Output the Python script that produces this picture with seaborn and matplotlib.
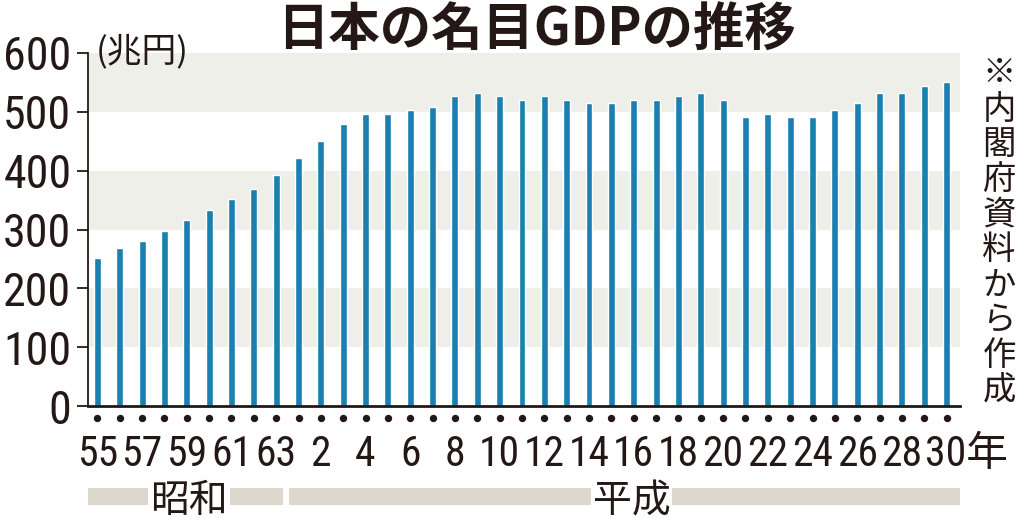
import matplotlib
matplotlib.use("Agg")
import matplotlib.pyplot as plt
import seaborn as sns
import pandas as pd
from matplotlib import font_manager as fm
from matplotlib.transforms import blended_transform_factory, ScaledTranslation
from matplotlib.patches import Rectangle

# ---------------- data ----------------
showa_years = [55, 56, 57, 58, 59, 60, 61, 62, 63]
heisei_years = list(range(1, 31))
gdp = [251, 269, 281, 298, 316, 333, 351, 368, 392,           # 昭和55-63
       421, 450, 480, 497, 497, 503, 509, 527, 532, 527,      # 平成1-10
       520, 527, 520, 515, 515, 520, 520, 527, 532, 520,      # 平成11-20
       491, 497, 491, 491, 503, 515, 532, 532, 544, 550]      # 平成21-30
title = "日本の名目GDPの推移"
unit_label = "(兆円)"
note = "※内閣府資料から作成"
era_names = ["昭和", "平成"]
y_ticks = [0, 100, 200, 300, 400, 500, 600]

categories = [f"S{y}" for y in showa_years] + [f"H{y}" for y in heisei_years]
year_labels = [str(y) for y in showa_years] + [str(y) for y in heisei_years]
year_labels[-1] = year_labels[-1] + "年"

# ---------------- style ----------------
sns.set_style("white")
fonts = fm.fontManager.ttflist
names = {f.name for f in fonts}
num_font, num_stretch, narrow = "Liberation Sans", "normal", False
if "Liberation Sans Narrow" in names:
    num_font, narrow = "Liberation Sans Narrow", True
elif "Roboto Condensed" in names:
    num_font, narrow = "Roboto Condensed", True
elif any(f.name == "Roboto" and f.stretch == "condensed" for f in fonts):
    num_font, num_stretch, narrow = "Roboto", "condensed", True
cjk = "Noto Sans CJK JP"
plt.rcParams["font.family"] = [num_font, cjk, "DejaVu Sans"]
plt.rcParams["font.stretch"] = num_stretch

ylab_size = 33 if narrow else 29
xlab_size = 30 if narrow else 27

ink = "#231815"
bar_color = "#1b80b0"
band_color = "#efefea"
era_color = "#dcd8ce"

W, H = 1024, 530
fig = plt.figure(figsize=(W / 100, H / 100), dpi=100)
fig.patch.set_facecolor("white")
ax = fig.add_axes([88 / W, 1 - 406 / H, (960 - 88) / W, (406 - 53) / H])

# background bands
for lo in (100, 300, 500):
    ax.axhspan(lo, lo + 100, color=band_color, lw=0, zorder=0)

df = pd.DataFrame({"cat": categories, "gdp": gdp})
sns.barplot(data=df, x="cat", y="gdp", order=categories, color=bar_color,
            saturation=1, width=0.31, ax=ax, zorder=2)

n = len(categories)
ax.set_xlim(-0.42, n - 1 + 0.6)
ax.set_ylim(0, 600)
ax.set_xlabel("")
ax.set_ylabel("")

for s in ("top", "right"):
    ax.spines[s].set_visible(False)
ax.spines["left"].set_color(ink)
ax.spines["left"].set_linewidth(1.3)
ax.spines["bottom"].set_color(ink)
ax.spines["bottom"].set_linewidth(2)
ax.spines["bottom"].set_zorder(3)

ax.set_yticks(y_ticks)
ax.set_yticklabels([str(v) for v in y_ticks])
ax.tick_params(axis="y", length=8, width=1.3, color=ink, pad=4,
               labelsize=ylab_size, labelcolor=ink, left=True)

xt = list(range(0, n, 2))
ax.set_xticks(xt)
ax.set_xticklabels([year_labels[i] for i in xt])
ax.tick_params(axis="x", length=0, pad=20, labelsize=xlab_size, labelcolor=ink)
# "30年": digits roughly under the last bar, 年 hanging to the right
last = ax.get_xticklabels()[-1]
last.set_horizontalalignment("left")
last.set_transform(last.get_transform() + ScaledTranslation(-0.22, 0, fig.dpi_scale_trans))

trans = blended_transform_factory(ax.transData, ax.transAxes)
axh = 406 - 53

# dots under each bar
ax.scatter(range(n), [-12 / axh] * n, s=28, color=ink, transform=trans,
           clip_on=False, zorder=5, linewidths=0)

# era bars
n_showa = len(showa_years)
y0 = (406 - 505) / axh
hh = 17 / axh
bounds = [(-0.42, n_showa - 1 + 0.31), (n_showa - 1 + 0.59, n - 1 + 0.6)]
centers = [4.1, 23.9]
for (a, b), name, c in zip(bounds, era_names, centers):
    ax.add_patch(Rectangle((a, y0), b - a, hh, transform=trans, clip_on=False,
                           fc=era_color, ec="none", zorder=1))
    ax.text(c, (406 - 501) / axh, name, transform=trans, ha="center", va="center",
            fontsize=28, color=ink, family=[cjk],
            bbox=dict(fc="white", ec="none", pad=1.5), zorder=2, clip_on=False)

# title and labels
fig.text(536 / W, 1 - 30 / H, title, ha="center", va="center", fontsize=37,
         fontweight="bold", color=ink, family=[cjk, "DejaVu Sans"])
fig.text(96 / W, 1 - 52 / H, unit_label, ha="left", va="center", fontsize=25,
         color=ink, family=[cjk])

# vertical note on the right
pitch = 35.2
for i, ch in enumerate(note):
    fig.text(999 / W, 1 - (74 + i * pitch) / H, ch, ha="center", va="center",
             fontsize=24, color=ink, family=[cjk])

fig.savefig("out.png", dpi=100, facecolor="white")
